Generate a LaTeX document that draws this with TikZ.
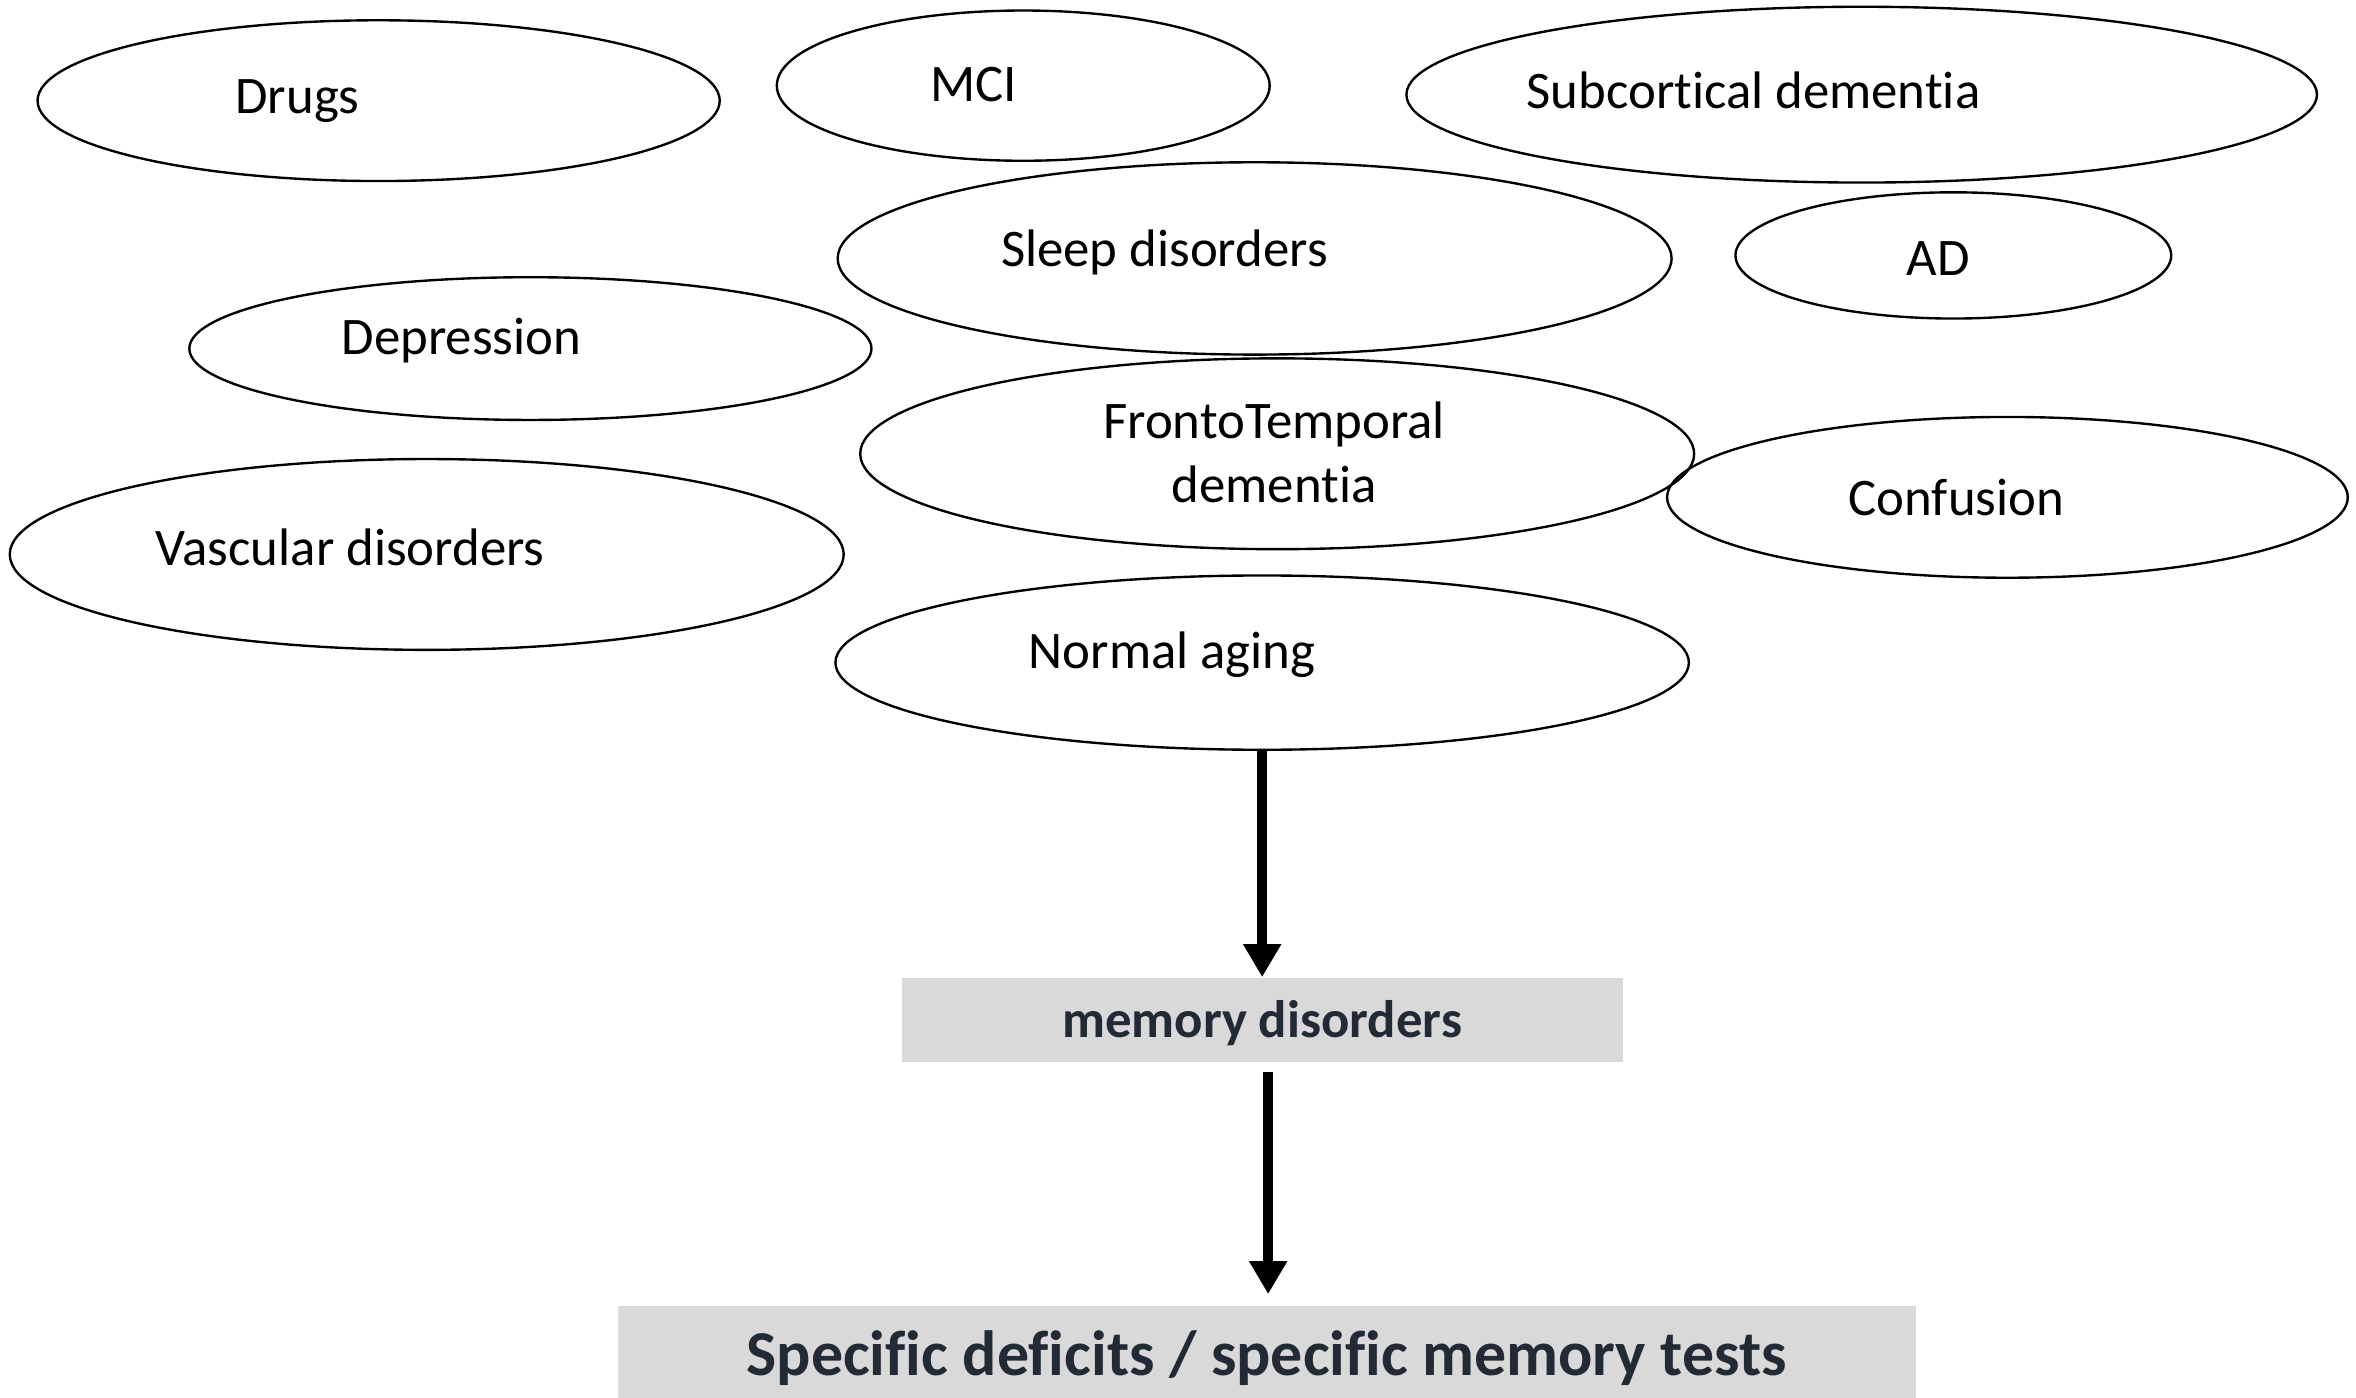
\documentclass[tikz,border=0pt]{standalone}
\usepackage{fontspec}
\setmainfont[Ligatures={NoCommon,NoRequired}, RawFeature={-liga;-clig;-dlig;-calt}]{Carlito}
\usepackage{tikz}
\usetikzlibrary{shapes.geometric}
\usetikzlibrary{arrows.meta}

\definecolor{boxgray}{HTML}{D9D9D9}
\definecolor{navytext}{HTML}{222A35}

\begin{document}
\begin{tikzpicture}[
  every node/.style={font=\fontsize{10}{12}\selectfont},
  oval/.style={draw, ellipse, inner sep=0pt, line width=0.45pt},
  graybox/.style={fill=boxgray, inner sep=0pt, text=navytext, font=\bfseries\fontsize{10}{12}\selectfont},
  bigarrow/.style={-{Triangle[width=0.24cm, length=0.22cm]}, line width=1.9pt}
]
\useasboundingbox (0,0) rectangle (15.68,-9.30);

% Causes (ellipses)
\node[oval, minimum width=4.54cm, minimum height=1.07cm,
  label={[xshift=-5.4mm, yshift=0.0mm]center:Drugs}] (drugs) at (2.52,-0.67) {};
\node[oval, minimum width=3.28cm, minimum height=1.00cm,
  label={[xshift=-3.3mm, yshift=0.1mm]center:MCI}] (mci) at (6.81,-0.57) {};
\node[oval, minimum width=6.06cm, minimum height=1.17cm,
  label={[xshift=-7.2mm, yshift=0.3mm]center:Subcortical dementia}] (subcort) at (12.39,-0.63) {};
\node[oval, minimum width=5.55cm, minimum height=1.28cm,
  label={[xshift=-6.0mm, yshift=0.4mm]center:Sleep disorders}] (sleep) at (8.35,-1.72) {};
\node[oval, minimum width=2.90cm, minimum height=0.84cm,
  label={[xshift=-1.0mm, yshift=-0.2mm]center:AD}] (ad) at (13.00,-1.70) {};
\node[oval, minimum width=4.54cm, minimum height=0.95cm,
  label={[xshift=-4.6mm, yshift=0.5mm]center:Depression}] (depr) at (3.53,-2.32) {};
\node[oval, minimum width=5.55cm, minimum height=1.27cm,
  label={[xshift=-0.2mm, yshift=0.1mm, align=center]center:FrontoTemporal\\dementia}] (ftd) at (8.50,-3.02) {};
\node[oval, minimum width=4.53cm, minimum height=1.07cm,
  label={[xshift=-3.4mm, yshift=0.0mm]center:Confusion}] (conf) at (13.36,-3.31) {};
\node[oval, minimum width=5.55cm, minimum height=1.27cm,
  label={[xshift=-5.1mm, yshift=0.5mm]center:Vascular disorders}] (vasc) at (2.84,-3.69) {};
\node[oval, minimum width=5.68cm, minimum height=1.16cm,
  label={[xshift=-6.0mm, yshift=0.5mm]center:Normal aging}] (aging) at (8.40,-4.41) {};

% Outcome boxes
\node[graybox, minimum width=4.80cm, minimum height=0.56cm,
  text height=8pt, text depth=1.3pt] (memdis) at (8.40,-6.79) {memory disorders};
\node[graybox, minimum width=8.64cm, minimum height=0.64cm, text height=10pt, text depth=1.6pt,
  font=\bfseries\fontsize{12.1}{14}\selectfont] (tests) at (8.43,-9.01) {Specific deficits / specific memory tests};

% Arrows
\draw[bigarrow] (aging.south) -- (memdis.north);
\draw[bigarrow, shorten <=0.06cm, shorten >=0.07cm] ([xshift=0.4mm]memdis.south) -- ([xshift=0.4mm]memdis.south |- tests.north);

\end{tikzpicture}
\end{document}
